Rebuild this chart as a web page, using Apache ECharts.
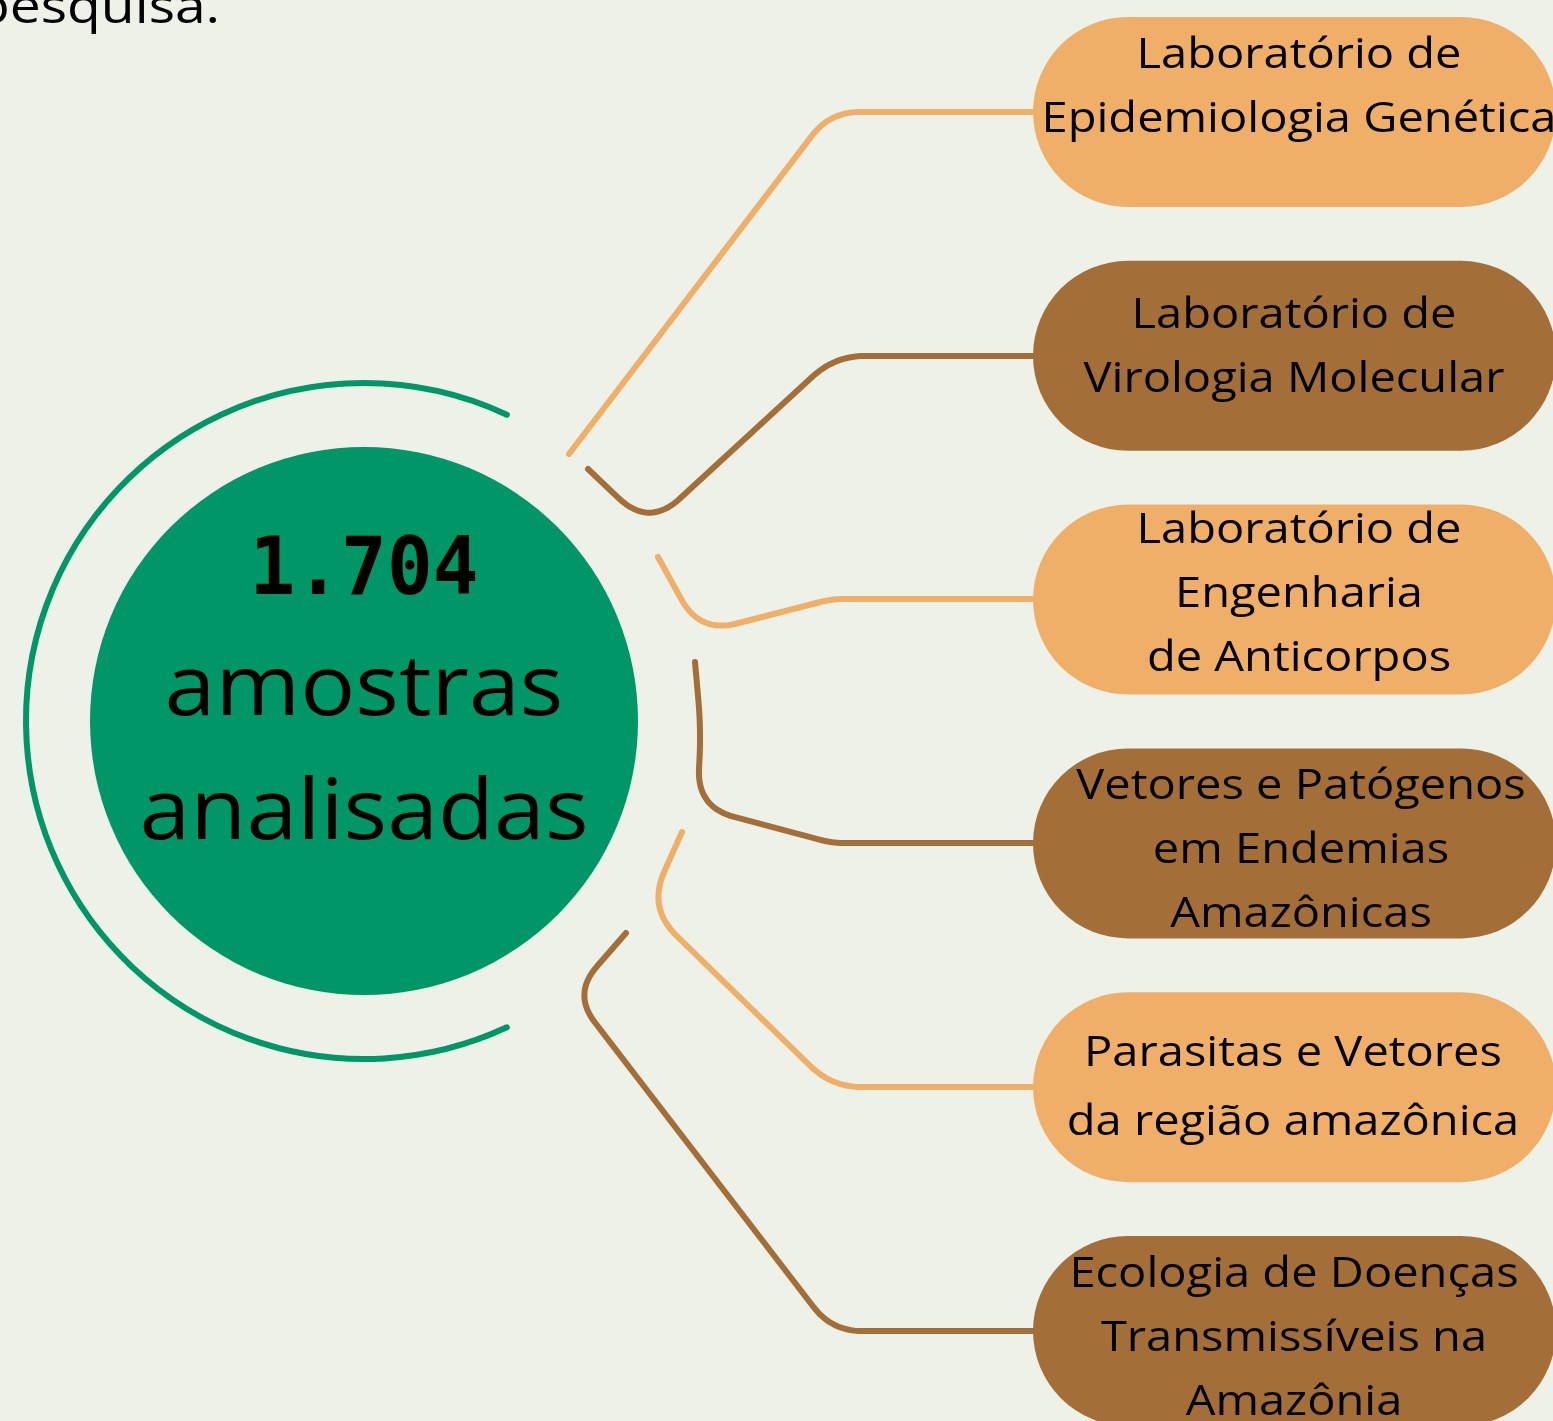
<!DOCTYPE html>
<html>
<head>
<meta charset="utf-8">
<script src="https://cdn.jsdelivr.net/npm/echarts@6/dist/echarts.min.js"></script>
<style>
  html, body { margin: 0; background: #eef1e8; }
  #chart { width: 1553px; height: 1421px; }
</style>
</head>
<body>
<div id="chart"></div>
<script>
// content
const labels = [
  'Laboratório de\nEpidemiologia Genética',
  'Laboratório de\nVirologia Molecular',
  'Laboratório de\nEngenharia\nde Anticorpos',
  'Vetores e Patógenos\nem Endemias\nAmazônicas',
  'Parasitas e Vetores\nda região amazônica',
  'Ecologia de Doenças\nTransmissíveis na\nAmazônia'
]
const total = 1704
const totalCaption = 'amostras\nanalisadas'
const introTail = 'pesquisa.'

// layout (pixel space of the hidden axes)
const W = 1553
const H = 1421
const GREEN = '#009668'
const palette = ['#efaf69', '#a46e39']
const hub = [364, 721]
const hubR = 274
const ringR = 338
const pillTop = 112
const pillStep = 243.8
const pillLeft = 1033
const pillRight = 1556
const stretch = 1.12 // source face is set wide and tracked out
const textShift = [[4, -24], [-1, -8], [4, -5], [6, 8], [-2, 1], [-1, 8]]
const lineHeights = [64, 64, 64, 64, 69, 64]
const routes = [
  [[1033, 112], [830, 112], [569, 454]],
  [[1033, 356], [835, 356], [649, 527], [588, 469]],
  [[1033, 599], [832, 599], [700, 633], [658, 557]],
  [[1033, 843], [832, 843], [697, 807], [701, 730], [695, 662]],
  [[1033, 1087], [832, 1087], [648, 908], [682, 832]],
  [[1033, 1331], [832, 1331], [573, 994], [626, 933]]
]
const cornerR = [[30], [30, 42], [12, 38], [12, 40, 30], [30, 40], [30, 36]]

function rounded(points, radii) {
  const out = [points[0]]
  for (let i = 1; i < points.length - 1; i++) {
    const [px, py] = points[i]
    const a = points[i - 1], b = points[i + 1]
    const la = Math.hypot(a[0] - px, a[1] - py), lb = Math.hypot(b[0] - px, b[1] - py)
    const d = Math.min(radii[i - 1], la / 2, lb / 2)
    const p0 = [px + (a[0] - px) / la * d, py + (a[1] - py) / la * d]
    const p2 = [px + (b[0] - px) / lb * d, py + (b[1] - py) / lb * d]
    for (let k = 0; k <= 16; k++) {
      const t = k / 16, u = 1 - t
      out.push([u * u * p0[0] + 2 * u * t * px + t * t * p2[0], u * u * p0[1] + 2 * u * t * py + t * t * p2[1]])
    }
  }
  out.push(points[points.length - 1])
  return out
}

const pillData = labels.map((label, i) => [(pillLeft + pillRight) / 2, pillTop + i * pillStep, i])
const font = '"Open Sans", "DejaVu Sans", sans-serif'

const chart = echarts.init(document.getElementById('chart'), null, { renderer: 'canvas' })
chart.setOption({
  backgroundColor: '#eef1e8',
  animation: false,
  grid: { left: 0, right: 0, top: 0, bottom: 0 },
  xAxis: { type: 'value', min: 0, max: W, show: false },
  yAxis: { type: 'value', min: 0, max: H, inverse: true, show: false },
  series: [
    {
      type: 'custom',
      coordinateSystem: 'cartesian2d',
      data: routes.map((r, i) => [r[0][0], r[0][1], i]),
      renderItem(params, api) {
        const i = api.value(2)
        const pts = rounded(routes[i], cornerR[i]).map(p => api.coord(p))
        return {
          type: 'polyline',
          shape: { points: pts },
          style: { stroke: palette[i % 2], lineWidth: 6, fill: null, lineCap: 'round', lineJoin: 'round' }
        }
      }
    },
    {
      type: 'custom',
      coordinateSystem: 'cartesian2d',
      data: pillData,
      renderItem(params, api) {
        const i = api.value(2)
        const c = api.coord([api.value(0), api.value(1)])
        const size = api.size([pillRight - pillLeft, 190])
        return {
          type: 'group',
          children: [
            {
              type: 'rect',
              shape: { x: c[0] - size[0] / 2, y: c[1] - size[1] / 2, width: size[0], height: size[1], r: size[1] / 2 },
              style: { fill: palette[i % 2] }
            },
            {
              type: 'text',
              x: 1295 + textShift[i][0], y: c[1] + textShift[i][1],
              scaleX: stretch,
              style: {
                text: labels[i], x: 0, y: 0,
                align: 'center', verticalAlign: 'middle',
                font: '42px ' + font, lineHeight: lineHeights[i], fill: '#000'
              }
            }
          ]
        }
      }
    },
    {
      type: 'custom',
      coordinateSystem: 'cartesian2d',
      data: [[hub[0], hub[1], total]],
      renderItem(params, api) {
        const c = api.coord([api.value(0), api.value(1)])
        const r = api.size([hubR, 0])[0]
        const rr = api.size([ringR, 0])[0]
        return {
          type: 'group',
          children: [
            {
              type: 'arc',
              shape: { cx: c[0], cy: c[1], r: rr, startAngle: 65 * Math.PI / 180, endAngle: 295 * Math.PI / 180, clockwise: true },
              style: { stroke: GREEN, lineWidth: 6, fill: null, lineCap: 'round' }
            },
            { type: 'circle', shape: { cx: c[0], cy: c[1], r }, style: { fill: GREEN } },
            {
              type: 'text',
              x: c[0], y: c[1] - 148,
              scaleX: 0.95,
              style: {
                text: api.value(2).toLocaleString('pt-BR'), x: 0, y: 0,
                align: 'center', verticalAlign: 'middle',
                font: 'bold 80px "DejaVu Sans Mono", monospace', fill: '#000'
              }
            },
            {
              type: 'text',
              x: c[0], y: c[1] + 32,
              scaleX: 1.09,
              style: {
                text: totalCaption, x: 0, y: 0,
                align: 'center', verticalAlign: 'middle',
                font: '84px ' + font, lineHeight: 124, fill: '#000'
              }
            }
          ]
        }
      }
    }
  ],
  graphic: [
    { type: 'text', x: -24, y: -15, scaleX: 1.15, style: { text: introTail, font: '48px ' + font, fill: '#000' } }
  ]
})
</script>
</body>
</html>
